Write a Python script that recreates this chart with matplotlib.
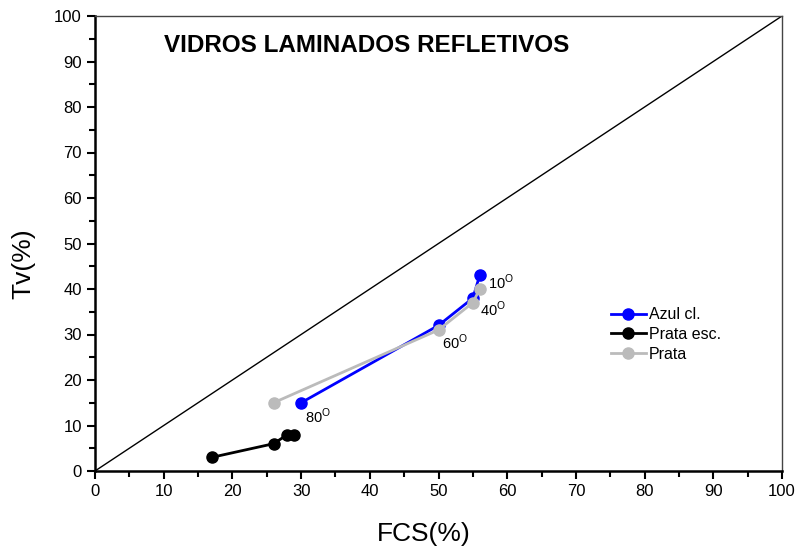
import numpy as np
import matplotlib.pyplot as plt
from matplotlib.ticker import MultipleLocator

plt.rcParams['font.family'] = ['Liberation Sans', 'DejaVu Sans']

# dados
fcs_azul = [56, 55, 50, 30]
tv_azul = [43, 38, 32, 15]
fcs_prata_esc = [17, 26, 28, 29]
tv_prata_esc = [3, 6, 8, 8]
fcs_prata = [56, 55, 50, 26]
tv_prata = [40, 37, 31, 15]

angulos = ["10", "40", "60", "80"]
pos_angulos = [(57.2, 41.5), (56.0, 35.5), (50.5, 28.3), (30.5, 12.0)]

fig = plt.figure(figsize=(8, 5.48), dpi=100)
ax = fig.add_axes([95/800, 1 - 471/548, (782-95)/800, (471-16)/548])

ax.plot([0, 100], [0, 100], color="black", lw=1)
ax.plot(fcs_azul, tv_azul, "-o", color="blue", lw=2, ms=8, label="Azul cl.")
ax.plot(fcs_prata_esc, tv_prata_esc, "-o", color="black", lw=2, ms=8, label="Prata esc.")
ax.plot(fcs_prata, tv_prata, "-o", color="#bbbbbb", lw=2, ms=8, label="Prata")

for a, (x, y) in zip(angulos, pos_angulos):
    ax.text(x, y, a + r"$^\mathregular{O}$", fontsize=10.5, va="center", ha="left")

ax.text(10, 93.5, "VIDROS LAMINADOS REFLETIVOS", fontsize=17.5, fontweight="bold", va="center")

ax.set_xlim(0, 100)
ax.set_ylim(0, 100)
ax.xaxis.set_major_locator(MultipleLocator(10))
ax.yaxis.set_major_locator(MultipleLocator(10))
ax.xaxis.set_minor_locator(MultipleLocator(5))
ax.yaxis.set_minor_locator(MultipleLocator(5))
ax.tick_params(which="major", direction="out", length=6, width=1.5, labelsize=12)
ax.tick_params(which="minor", direction="out", length=4, width=1.5)
for s in ["left", "bottom"]:
    ax.spines[s].set_linewidth(1.8)
for s in ["top", "right"]:
    ax.spines[s].set_linewidth(1.0)
    ax.spines[s].set_color("#444444")
ax.set_xlabel("FCS(%)", fontsize=19)
ax.set_ylabel("Tv(%)", fontsize=19)
ax.xaxis.set_label_coords(0.478, -0.111)
ax.yaxis.set_label_coords(-0.087, 0.455)

ax.legend(loc="center left", bbox_to_anchor=(0.73, 0.3), frameon=False,
          fontsize=11.5, handlelength=2.2, handletextpad=0.2, labelspacing=0.3)

fig.savefig("out.png", dpi=100)
